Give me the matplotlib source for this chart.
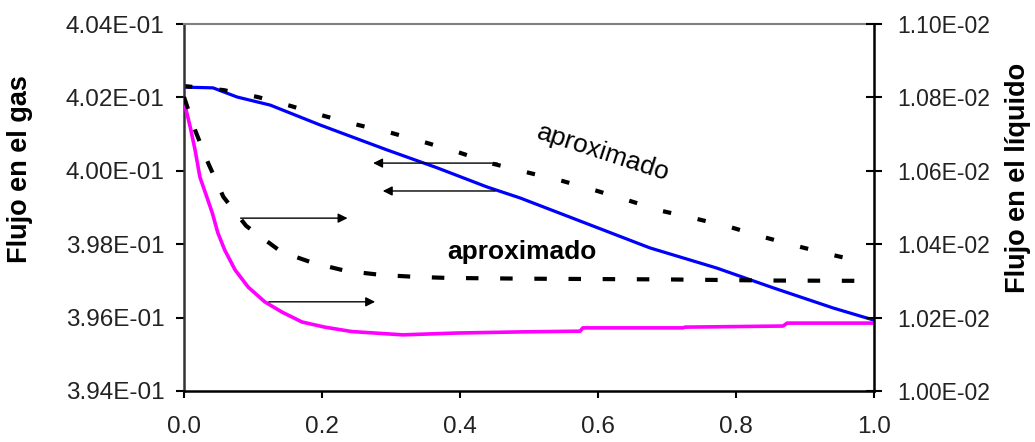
import matplotlib
matplotlib.use("Agg")
import matplotlib.pyplot as plt
from matplotlib.ticker import FormatStrFormatter

plt.rcParams["font.family"] = ["Liberation Sans", "DejaVu Sans"]

# flujo en el gas (eje izquierdo)
x_gas = [0.0, 0.042, 0.077, 0.125, 0.197, 0.294, 0.367, 0.439, 0.487, 0.570,
         0.675, 0.772, 0.854, 0.941, 1.0]
gas = [0.40228, 0.40226, 0.40201, 0.40179, 0.40125, 0.40057, 0.40008, 0.39956,
       0.39926, 0.39866, 0.39790, 0.39735, 0.39681, 0.39626, 0.39593]
x_gas_aprox = [0.0, 0.057, 0.107, 0.154, 0.204, 0.252, 0.301, 0.352, 0.400, 0.448,
               0.501, 0.549, 0.599, 0.646, 0.694, 0.743, 0.791, 0.839, 0.888,
               0.939, 0.990]
gas_aprox = [0.40231, 0.40220, 0.40201, 0.40177, 0.40149, 0.40125, 0.40103,
             0.40076, 0.40049, 0.40019, 0.39994, 0.39972, 0.39945, 0.39918,
             0.39890, 0.39869, 0.39847, 0.39820, 0.39795, 0.39771, 0.39749]

# flujo en el liquido (eje derecho)
x_liq = [0.0, 0.009, 0.016, 0.023, 0.033, 0.041, 0.049, 0.059, 0.074, 0.093,
         0.117, 0.142, 0.171, 0.204, 0.243, 0.317, 0.396, 0.487, 0.574, 0.578,
         0.723, 0.726, 0.868, 0.874, 1.0]
liq = [0.010790, 0.010719, 0.010657, 0.010583, 0.010529, 0.010485, 0.010431,
       0.010384, 0.010330, 0.010283, 0.010243, 0.010215, 0.010188, 0.010174,
       0.010162, 0.010153, 0.010158, 0.010161, 0.010163, 0.010172, 0.010172,
       0.010174, 0.010177, 0.010185, 0.010185]
x_liq_aprox = [0.0, 0.016, 0.035, 0.057, 0.090, 0.141, 0.187, 0.235, 0.287,
               0.335, 0.383, 0.5, 0.7, 0.85, 1.0]
liq_aprox = [0.010801, 0.010711, 0.010621, 0.010529, 0.010450, 0.010379,
             0.010349, 0.010327, 0.010316, 0.010311, 0.010308, 0.010306,
             0.010304, 0.010301, 0.010300]

fig = plt.figure(figsize=(10.35, 4.42), dpi=100)
ax = fig.add_axes([0.1778, 0.1154, 0.6667, 0.8303])
ax2 = ax.twinx()

ax.plot(x_gas, gas, color="#0000ff", lw=2.3)
ax.plot(x_gas_aprox, gas_aprox, color="k", lw=3, dashes=(2, 6.5))
ax2.plot(x_liq, liq, color="#ff00ff", lw=2.6)
ax2.plot(x_liq_aprox, liq_aprox, color="k", lw=3, dashes=(3, 5.2))

flecha = dict(arrowstyle="-|>", color="k", lw=1, mutation_scale=14)
ax.annotate("", xy=(0.270, 0.40021), xytext=(0.458, 0.40021), arrowprops=flecha)
ax.annotate("", xy=(0.284, 0.39945), xytext=(0.455, 0.39945), arrowprops=flecha)
ax2.annotate("", xy=(0.241, 0.010471), xytext=(0.078, 0.010471), arrowprops=flecha)
ax2.annotate("", xy=(0.281, 0.010243), xytext=(0.119, 0.010243), arrowprops=flecha)

ax.text(0.608, 0.40049, "aproximado", rotation=-18, ha="center", va="center",
        fontsize=19)
ax.text(0.49, 0.39779, "aproximado", ha="center", va="center", fontsize=19,
        fontweight="bold")

ax.set_xlim(0, 1)
ax.set_ylim(0.394, 0.404)
ax2.set_ylim(0.010, 0.011)
ax.set_xticks([0.0, 0.2, 0.4, 0.6, 0.8, 1.0])
ax.set_yticks([0.394, 0.396, 0.398, 0.400, 0.402, 0.404])
ax2.set_yticks([0.0100, 0.0102, 0.0104, 0.0106, 0.0108, 0.0110])
ax.xaxis.set_major_formatter(FormatStrFormatter("%.1f"))
ax.yaxis.set_major_formatter(FormatStrFormatter("%.2E"))
ax2.yaxis.set_major_formatter(FormatStrFormatter("%.2E"))

ax.tick_params(axis="y", direction="out", length=6, width=1.5, pad=8,
               labelsize=17.5, labelcolor="#222222")
ax.tick_params(axis="x", direction="out", length=5, width=1.5, pad=13,
               labelsize=17.5, labelcolor="#222222")
ax2.tick_params(axis="y", direction="inout", length=12, width=1.5, pad=11,
                labelsize=16.5, labelcolor="#222222")

ax.set_ylabel("Flujo en el gas", fontsize=19.5, fontweight="bold")
ax2.set_ylabel("Flujo en el líquido", fontsize=19.5, fontweight="bold")
# titulos de eje un poco por encima del centro
ax.yaxis.set_label_coords(-0.219, 0.605)
ax2.yaxis.set_label_coords(1.19, 0.58)

for s in ["top", "left", "bottom"]:
    ax2.spines[s].set_visible(False)
ax.spines["right"].set_visible(False)
ax.spines["top"].set_color("#808080")
ax.spines["top"].set_linewidth(1.5)
ax.spines["left"].set_linewidth(1.8)
ax.spines["left"].set_color("#333333")
ax.spines["bottom"].set_linewidth(1.8)
ax2.spines["right"].set_linewidth(1.8)

fig.savefig("out.png", dpi=100)
